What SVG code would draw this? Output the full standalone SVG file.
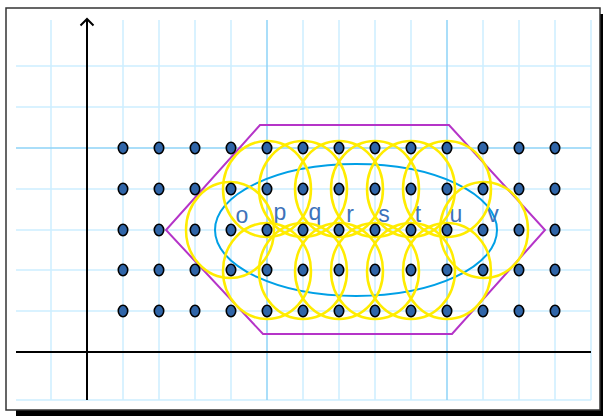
<svg xmlns="http://www.w3.org/2000/svg" width="603" height="416" viewBox="0 0 603 416">
<style>
.gl{stroke:#cdeeff;stroke-width:1.5;fill:none}
.gd{stroke:#8ed4f8;stroke-width:1.5;fill:none}
.ax{stroke:#000;stroke-width:2;fill:none}
.dot{fill:#2f65a8;stroke:#000;stroke-width:1.6}
.yc{fill:none;stroke:#ffec00;stroke-width:2.5}
.lb{font-family:"Liberation Sans",Arial,sans-serif;font-size:23px;fill:#3d72ba;text-anchor:middle}
</style>
<defs>
<ellipse id="d" class="dot" rx="4.7" ry="5.7"/>
<ellipse id="y" class="yc" rx="44" ry="48"/>
</defs>
<rect x="16" y="14" width="594" height="406" fill="#000"/>
<rect x="6" y="8" width="594" height="402" fill="#fff" stroke="#333" stroke-width="1.5"/>
<g id="grid">
<path class="gl" d="M51 20V400M123 20V400M159 20V400M195 20V400M231 20V400M303 20V400M339 20V400M375 20V400M411 20V400M483 20V400M519 20V400M555 20V400M591 20V400"/>
<path class="gl" d="M16 66H591M16 107H591M16 189H591M16 230H591M16 270H591M16 311H591M16 400H591"/>
<path class="gd" d="M267 20V400M447 20V400M16 148H591"/>
</g>
<g id="axes">
<path class="ax" d="M16 352H591"/>
<path class="ax" d="M87 400V19"/>
<path class="ax" d="M80.5 25.5L87 19L93.5 25.5"/>
</g>
<g id="hexagon">
<polygon points="260,125 449,125 545,230 452,334 263,334 166,230" fill="none" stroke="#b534c8" stroke-width="2"/>
</g>
<g id="ellipse">
<ellipse cx="356" cy="230" rx="141" ry="66" fill="none" stroke="#00a0e6" stroke-width="2"/>
</g>
<g id="labels">
<text class="lb" x="242" y="223">o</text>
<text class="lb" x="280" y="220">p</text>
<text class="lb" x="315" y="220">q</text>
<text class="lb" x="350" y="222">r</text>
<text class="lb" x="384" y="222">s</text>
<text class="lb" x="418" y="222">t</text>
<text class="lb" x="456" y="222">u</text>
<text class="lb" x="493" y="222">v</text>
</g>
<g id="circles">
<use href="#y" x="267" y="189"/><use href="#y" x="303" y="189"/><use href="#y" x="339" y="189"/><use href="#y" x="375" y="189"/><use href="#y" x="411" y="189"/><use href="#y" x="447" y="189"/>
<use href="#y" x="267" y="271"/><use href="#y" x="303" y="271"/><use href="#y" x="339" y="271"/><use href="#y" x="375" y="271"/><use href="#y" x="411" y="271"/><use href="#y" x="447" y="271"/>
<use href="#y" x="230" y="230"/><use href="#y" x="484" y="230"/>
</g>
<g id="dots">
<g id="row1"><use href="#d" x="123" y="148"/><use href="#d" x="159" y="148"/><use href="#d" x="195" y="148"/><use href="#d" x="231" y="148"/><use href="#d" x="267" y="148"/><use href="#d" x="303" y="148"/><use href="#d" x="339" y="148"/><use href="#d" x="375" y="148"/><use href="#d" x="411" y="148"/><use href="#d" x="447" y="148"/><use href="#d" x="483" y="148"/><use href="#d" x="519" y="148"/><use href="#d" x="555" y="148"/></g>
<g id="row2"><use href="#d" x="123" y="189"/><use href="#d" x="159" y="189"/><use href="#d" x="195" y="189"/><use href="#d" x="231" y="189"/><use href="#d" x="267" y="189"/><use href="#d" x="303" y="189"/><use href="#d" x="339" y="189"/><use href="#d" x="375" y="189"/><use href="#d" x="411" y="189"/><use href="#d" x="447" y="189"/><use href="#d" x="483" y="189"/><use href="#d" x="519" y="189"/><use href="#d" x="555" y="189"/></g>
<g id="row3"><use href="#d" x="123" y="230"/><use href="#d" x="159" y="230"/><use href="#d" x="195" y="230"/><use href="#d" x="231" y="230"/><use href="#d" x="267" y="230"/><use href="#d" x="303" y="230"/><use href="#d" x="339" y="230"/><use href="#d" x="375" y="230"/><use href="#d" x="411" y="230"/><use href="#d" x="447" y="230"/><use href="#d" x="483" y="230"/><use href="#d" x="519" y="230"/><use href="#d" x="555" y="230"/></g>
<g id="row4"><use href="#d" x="123" y="270"/><use href="#d" x="159" y="270"/><use href="#d" x="195" y="270"/><use href="#d" x="231" y="270"/><use href="#d" x="267" y="270"/><use href="#d" x="303" y="270"/><use href="#d" x="339" y="270"/><use href="#d" x="375" y="270"/><use href="#d" x="411" y="270"/><use href="#d" x="447" y="270"/><use href="#d" x="483" y="270"/><use href="#d" x="519" y="270"/><use href="#d" x="555" y="270"/></g>
<g id="row5"><use href="#d" x="123" y="311"/><use href="#d" x="159" y="311"/><use href="#d" x="195" y="311"/><use href="#d" x="231" y="311"/><use href="#d" x="267" y="311"/><use href="#d" x="303" y="311"/><use href="#d" x="339" y="311"/><use href="#d" x="375" y="311"/><use href="#d" x="411" y="311"/><use href="#d" x="447" y="311"/><use href="#d" x="483" y="311"/><use href="#d" x="519" y="311"/><use href="#d" x="555" y="311"/></g>
</g>
</svg>
